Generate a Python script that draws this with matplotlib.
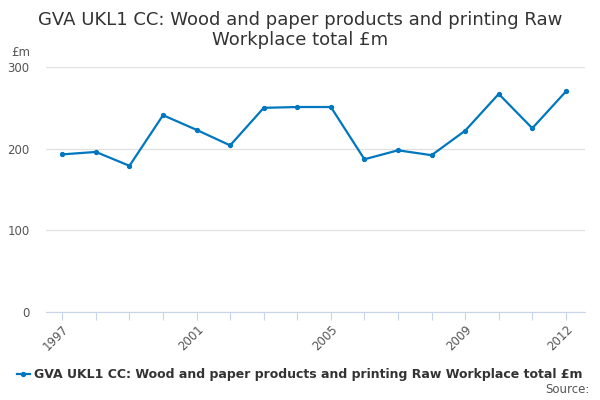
import matplotlib
matplotlib.use("Agg")
import matplotlib.pyplot as plt
from matplotlib.lines import Line2D

# ---------------------------------------------------------------------------
# DATA
# ---------------------------------------------------------------------------
years = [1997, 1998, 1999, 2000, 2001, 2002, 2003, 2004,
         2005, 2006, 2007, 2008, 2009, 2010, 2011, 2012]
gva = [193, 196, 179, 241, 223, 204, 250, 251,
       251, 187, 198, 192, 222, 267, 225, 270]
label_years = [1997, 2001, 2005, 2009, 2012]
series_name = "GVA UKL1 CC: Wood and paper products and printing Raw Workplace total £m"
title = "GVA UKL1 CC: Wood and paper products and printing Raw\nWorkplace total £m"

LINE_COL = "#0077BE"
GRID_COL = "#E0E0E0"
TXT_COL = "#555555"

fig = plt.figure(figsize=(6, 4), dpi=100)
ax = fig.add_axes([0.077, 0.22, 0.898, 0.6125])

ax.plot(years, gva, color=LINE_COL, lw=1.6, marker="o", ms=2.8, zorder=3)

ax.set_ylim(0, 300)
ax.set_yticks([0, 100, 200, 300])
ax.set_xlim(1996.52, 2012.57)
ax.set_xticks(years)
ax.set_xticklabels([str(y) if y in label_years else "" for y in years],
                   rotation=45, ha="right", rotation_mode="anchor")

ax.grid(True, axis="y", color=GRID_COL, lw=0.9)
ax.set_axisbelow(True)
for s in ["top", "right", "left"]:
    ax.spines[s].set_visible(False)
ax.spines["bottom"].set_color("#C8D4E8")
ax.tick_params(axis="y", length=0, labelsize=8.5, labelcolor=TXT_COL, pad=12)
ax.tick_params(axis="x", length=6, color="#C8D4E8", labelsize=8.5,
               labelcolor=TXT_COL, pad=2)

fig.text(0.018, 0.86, "£m", fontsize=8.5, color=TXT_COL)
fig.suptitle(title, fontsize=13, color="#333333", y=0.972, linespacing=1.1)

handle = Line2D([], [], color=LINE_COL, lw=1.6, marker="o", ms=2.8)
fig.legend([handle], [series_name], loc="center", bbox_to_anchor=(0.5, 0.063),
           frameon=False, handlelength=1.0, handletextpad=0.4,
           prop={"size": 9, "weight": "bold"}, labelcolor="#333333")
fig.text(0.982, 0.017, "Source:", ha="right", fontsize=8.5, color=TXT_COL)

fig.savefig("out.png", dpi=100)
